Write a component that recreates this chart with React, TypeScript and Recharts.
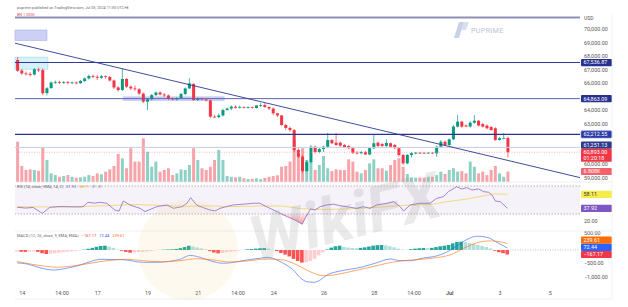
import React from 'react';
import {
  ComposedChart, Bar, Line, Area, XAxis, YAxis, ReferenceLine, ReferenceArea, Cell,
} from 'recharts';

// BTCUSD 4h candles, Jun 13 20:00 -> Jul 03 08:00 (UTC+8)
const opens = [
  67730, 66950, 66730, 66690, 66650, 67020, 66980, 65280, 65650, 66060,
  66100, 66040, 66080, 66020, 66060, 66010, 66170, 66360, 66540, 66480,
  66410, 66530, 66470, 66210, 65690, 65500, 66320, 65750, 65620, 65560,
  65240, 64640, 64820, 65130, 65320, 65170, 65100, 64870, 64800, 64910,
  65210, 65620, 65950, 64760, 64870, 64800, 64730, 63530, 63500, 63620,
  64020, 64130, 64270, 64190, 64250, 64190, 64230, 64170, 64360, 64390,
  64250, 64130, 63780, 63620, 62910, 62690, 62540, 61060, 60560, 59500,
  60170, 61300, 60910, 61130, 61300, 61800, 61600, 61600, 61430, 61360,
  61190, 60860, 60820, 60900, 60730, 61190, 61600, 61500, 61360, 61560,
  61430, 61190, 60690, 60070, 60690, 60820, 60860, 60850, 60840, 60860,
  60810, 61300, 61670, 61430, 61850, 62790, 63160, 62880, 62800, 63080,
  63230, 62980, 62870, 62760, 62670, 61800, 61930, 61950,
];
const highs = [
  67950, 67060, 66870, 66840, 67130, 67170, 67100, 65730, 66130, 66210,
  66190, 66170, 66170, 66130, 66130, 66240, 66430, 66650, 66650, 66620,
  66620, 66580, 66540, 66280, 65800, 67110, 66390, 65840, 65840, 65650,
  65320, 64910, 65210, 65390, 65390, 65280, 65170, 64950, 64980, 65280,
  65690, 66370, 66020, 64950, 64950, 64910, 64800, 63650, 63780, 64130,
  64210, 64360, 64360, 64360, 64270, 64270, 64270, 64390, 64540, 64540,
  64270, 64210, 63790, 63650, 62990, 62800, 62610, 61190, 60690, 60320,
  61430, 61380, 61210, 61380, 62320, 61850, 62320, 61680, 61500, 61430,
  61280, 60990, 60990, 60990, 61280, 62170, 61670, 61580, 61850, 61600,
  61500, 61280, 60760, 60760, 60900, 60910, 60910, 60900, 60900, 60910,
  61380, 61800, 61760, 61910, 62910, 63650, 63230, 62960, 63210, 63650,
  63280, 63060, 62950, 62840, 62740, 62020, 62320, 62060,
];
const lows = [
  66840, 66620, 66580, 66500, 66580, 66840, 65130, 65100, 65580, 65950,
  65950, 65950, 65910, 65950, 65910, 65950, 66100, 66280, 66390, 66240,
  66320, 66320, 66130, 65580, 65390, 65430, 65650, 65500, 65430, 65130,
  64540, 64020, 64730, 65060, 65100, 64980, 64760, 64730, 64730, 64840,
  65130, 65580, 64690, 64690, 64730, 64640, 63430, 63430, 63430, 63530,
  63990, 64020, 64130, 64130, 64130, 64130, 64130, 64130, 64250, 64170,
  64020, 63650, 63500, 62840, 62540, 62390, 60910, 60470, 59360, 59430,
  60070, 60800, 60820, 60910, 61190, 61500, 61360, 61300, 61210, 61130,
  60760, 60730, 60740, 60690, 60690, 61130, 61280, 61280, 61280, 61210,
  61130, 60560, 59950, 60000, 60520, 60740, 60800, 60800, 60790, 60790,
  60560, 61240, 61360, 61360, 61800, 62730, 62690, 62760, 62730, 62990,
  62800, 62730, 62580, 62470, 61730, 61760, 61840, 60520,
];
const closes = [
  66930, 66730, 66690, 66620, 67040, 66950, 65260, 65630, 66060, 66100,
  66040, 66080, 66020, 66060, 66010, 66170, 66360, 66540, 66480, 66410,
  66530, 66470, 66210, 65690, 65500, 66320, 65750, 65620, 65560, 65240,
  64640, 64820, 65130, 65320, 65170, 65100, 64870, 64800, 64910, 65210,
  65620, 65990, 64760, 64870, 64800, 64730, 63530, 63500, 63620, 64020,
  64130, 64270, 64190, 64250, 64190, 64230, 64170, 64360, 64390, 64250,
  64130, 63780, 63620, 62910, 62690, 62540, 61060, 60560, 59500, 60170,
  61300, 60910, 61130, 61300, 61800, 61560, 61430, 61380, 61280, 61190,
  60860, 60820, 60900, 60730, 61190, 61560, 61360, 61360, 61580, 61300,
  61190, 60690, 60070, 60690, 60820, 60860, 60850, 60840, 60860, 60810,
  61300, 61670, 61430, 61850, 62790, 63160, 62790, 62800, 63080, 63230,
  62870, 62790, 62670, 62540, 61800, 61930, 61950, 60893,
];
// volume in thousands
const volumes = [
  26.1, 10.4, 7.8, 8.2, 7.8, 7.3, 22.5, 14.3, 5.6, 4.5,
  3.4, 3.9, 4.5, 3.4, 2.8, 3.0, 3.4, 4.5, 3.9, 5.6,
  5.0, 6.7, 8.2, 10.4, 18.2, 15.4, 8.9, 21.9, 13.2, 13.2,
  28.3, 19.6, 9.9, 13.2, 6.7, 7.8, 8.9, 4.5, 5.6, 8.2,
  7.8, 11.0, 21.9, 14.3, 8.9, 7.8, 9.9, 14.3, 20.8, 14.3,
  3.9, 3.4, 3.0, 3.4, 2.4, 1.9, 2.1, 2.4, 1.9, 2.6,
  3.4, 3.9, 4.3, 9.9, 10.4, 13.2, 27.2, 20.8, 21.9, 14.3,
  13.2, 7.8, 11.0, 16.9, 8.9, 7.1, 8.2, 7.8, 7.8, 14.7,
  13.2, 6.7, 5.6, 7.8, 12.1, 14.7, 8.9, 8.9, 7.3, 11.0,
  14.3, 15.4, 9.9, 5.2, 3.0, 2.8, 3.0, 2.8, 3.4, 3.4,
  4.5, 6.7, 5.2, 7.8, 8.9, 6.7, 7.1, 5.6, 13.2, 9.9,
  5.6, 6.7, 4.5, 7.8, 10.4, 5.6, 3.4, 6.808,
];
const macdHist = [
  -55, -65, -70, -60, -50, -70, -120, -150, -140, -120,
  -100, -80, -65, -50, -30, -10, 15, 45, 80, 120,
  150, 160, 130, 80, 20, -30, -70, -100, -90, -75,
  -70, -55, -35, -15, 5, 15, 20, 25, 40, 70,
  110, 160, 130, 95, 60, 25, -40, -95, -125, -110,
  -85, -65, -45, -20, 5, 25, 35, 50, 65, 70,
  50, 10, -40, -110, -170, -240, -330, -410, -470, -460,
  -410, -330, -200, -90, 20, 90, 140, 160, 110, 90,
  75, 70, 80, 100, 130, 160, 180, 185, 170, 140,
  100, 50, 20, 10, 30, 50, 65, 75, 70, 80,
  110, 140, 160, 190, 250, 300, 310, 290, 260, 230,
  190, 150, 110, 60, -30, -80, -120, -167.17,
];
// [candle index, value]
const macdLine = [
  [0, -480], [2.3, -520], [5.4, -660], [7, -720], [8.6, -746], [11.8, -683], [15, -560],
  [17.4, -436], [19.8, -347], [25.3, -360], [30.1, -460], [33.3, -459], [38.9, -347],
  [41.2, -200], [43.6, -272], [46, -399], [49.2, -496], [54.8, -373], [57.9, -310],
  [59.5, -272], [63.5, -496], [65.9, -746], [67.5, -1026], [69.1, -1182], [70.7, -1205],
  [72.3, -1119], [73.9, -933], [76.3, -809], [79.4, -720], [82.6, -623], [85.8, -474],
  [89, -336], [91.4, -399], [93.8, -399], [96.9, -300], [100.1, -220], [102.5, -80],
  [104.9, 150], [107.3, 390], [109.7, 515], [111.3, 496], [112.9, 430], [114, 330],
  [115, 240], [116, 160], [117, 72.44],
];
const signalLine = [
  [0, -430], [7, -610], [9.4, -645], [13, -600], [17.4, -496], [21.4, -399], [26.1, -347],
  [30.1, -399], [34.1, -436], [38.9, -399], [42.8, -325], [46.8, -373], [50.8, -448],
  [54.8, -410], [59.5, -336], [63.5, -373], [65.9, -496], [67.5, -615], [69.9, -809],
  [73.1, -960], [75.4, -933], [79.4, -809], [84.2, -645], [88.2, -496], [91.4, -410],
  [95.3, -360], [99.3, -300], [103.3, -180], [106.5, 60], [109.7, 270], [113, 340],
  [115, 312], [116, 281], [117, 239.61],
];
const rsiLine = [
  [0, 39.6], [2, 38.5], [3.8, 39.3], [6, 31], [7.8, 39.6], [10, 40.5], [11.8, 40.4], [14, 40],
  [15.7, 40.4], [16.9, 46.7], [18.5, 45.5], [19.8, 46.7], [21.4, 45.3], [23.3, 35.7], [24.3, 34],
  [25.3, 48.6], [26.9, 42.9], [29.3, 38.1], [30.5, 33.5], [31.5, 36], [33.3, 40.4], [35.7, 42.9],
  [37.3, 38.1], [39.3, 40.4], [40.5, 45.3], [41.4, 53.3], [42.8, 42.9], [44.4, 39], [46, 35.7],
  [47.2, 34.3], [48.4, 38.1], [51.5, 42.9], [54, 44], [56.3, 45.3], [57.9, 45.3], [59.5, 40.4],
  [62, 33.3], [64.5, 26], [66, 22], [67, 19], [68, 15.3], [69, 27], [70, 37], [71.1, 35.7],
  [72.3, 40.4], [73.9, 42.9], [75.5, 44], [77, 41.9], [78.6, 40.4], [81, 38.1], [82.6, 40.4],
  [84.2, 38.1], [85.8, 42.9], [88.2, 45.3], [89.8, 47.6], [91.4, 40.4], [92.2, 34.3], [93.8, 42.9],
  [96.1, 45.3], [98.5, 45.3], [100.1, 52.4], [101.7, 54.7], [102.9, 61.9], [104.9, 69],
  [106.1, 65.7], [107.3, 67.6], [108.5, 64.3], [110.1, 65.7], [111.3, 61.9], [112.5, 61],
  [113.3, 57.1], [114.1, 48.6], [115.3, 47.6], [117, 37.92],
];
const rsiMa = [
  [0, 40.5], [8, 40], [16, 40.8], [24, 42.5], [28, 43.5], [33, 42.5], [40, 41], [46, 41.5],
  [52, 40.5], [58, 41.5], [63, 41.5], [68, 37.5], [73, 36.5], [78, 37], [83, 38.5], [88, 40.5],
  [93, 42.5], [99.2, 43.9], [102.6, 47.6], [107.4, 51.4], [111, 55.7], [114, 58.8], [117, 58.11],
];

const dateTicks = [1.2, 10.7, 19.2, 31.2, 43.2, 52.7, 61.2, 73.2, 85.2, 94.7, 103.2, 115.2, 127.2];
const dateLabels = ['14', '14:00', '17', '19', '21', '14:00', '24', '26', '28', '14:00', 'Jul', '3', '5'];
const priceTicks = [59000, 60000, 63000, 64000, 66000, 67000, 68000, 69000, 70000];
const rsiTicks = [20];
const macdTicks = [500, -500, -1000];

// drawings on the price pane
const topLevel = 70874;
const levels = [67536.87, 64863.09, 62212.55];
const rayLevel = 61251.13;
const lastPrice = 60893;
const trendFrom = 68970;
const trendTo = 59015;

const X_DOMAIN: [number, number] = [-0.525, 134.3];
const PRICE_DOMAIN: [number, number] = [58689, 71133];
const VOL_DOMAIN: [number, number] = [0, 108.9];
const RSI_DOMAIN: [number, number] = [5.7, 75.7];
const MACD_DOMAIN: [number, number] = [-1380, 709];

const FONT = 'Roboto, "Liberation Sans", Arial, sans-serif';
const UP = '#089981';
const DOWN = '#f23645';
const AXIS_TXT = '#555';
const TAG_H = 7.2;

const candleData = closes.map((c, i) => ({
  i,
  o: opens[i],
  h: highs[i],
  l: lows[i],
  c,
  range: [lows[i], highs[i]],
  vol: volumes[i],
  hist: macdHist[i],
}));
const toRows = (pts: number[][]) => pts.map(([i, v]) => ({ i, v }));
const rsiRows = rsiLine.map(([i, v]) => ({ i, v, os: [Math.min(v, 30), 30] }));

const fmt = (v: number) =>
  Math.abs(v).toLocaleString('en-US', { minimumFractionDigits: 2, maximumFractionDigits: 2 });
const fmtSigned = (v: number) => (v < 0 ? '\u2212' : '') + fmt(v);

const histColor = (v: number, prev: number) =>
  v >= 0 ? (v >= prev ? '#26a69a' : '#b2dfdb') : v < prev ? '#ff5252' : '#ffcdd2';

// push overlapping axis tags upward, like the price scale does
function dodge(items: { v: number; h: number }[], dom: [number, number], plotH: number) {
  const py = (v: number) => ((dom[1] - v) / (dom[1] - dom[0])) * plotH;
  const order = items.map((t, k) => ({ k, y: py(t.v), h: t.h })).sort((a, b) => b.y - a.y);
  const out = items.map(() => 0);
  let limit = Infinity;
  for (const s of order) {
    const top = s.y - TAG_H / 2;
    const shift = Math.min(0, limit - (top + s.h));
    out[s.k] = shift;
    limit = top + shift;
  }
  return out;
}

const Candle = (p: any) => {
  const { x, y, width, height, payload } = p;
  const { o, c, h, l } = payload;
  const color = c >= o ? UP : DOWN;
  const k = height / Math.max(h - l, 1e-9);
  const top = y + (h - Math.max(o, c)) * k;
  const bh = Math.max(0.8, Math.abs(o - c) * k);
  const cx = x + width / 2;
  return (
    <g>
      <line x1={cx} x2={cx} y1={y} y2={y + height} stroke={color} strokeWidth={0.7} />
      <rect x={x} y={top} width={width} height={bh} fill={color} />
    </g>
  );
};

const Tag = (props: any) => {
  const { viewBox, text, sub, bg, fg = '#fff', dy = 0, border } = props;
  if (!viewBox) return null;
  const x = viewBox.x + viewBox.width + 1;
  const y = viewBox.y + dy;
  const h = sub ? 13 : TAG_H;
  return (
    <g>
      <rect x={x} y={y - TAG_H / 2} width={31} height={h} rx={1} fill={bg} stroke={border || 'none'} strokeWidth={0.6} />
      <text x={x + 2.5} y={y + 1.9} fontSize={5.4} fill={fg}>{text}</text>
      {sub && <text x={x + 2.5} y={y + 7.6} fontSize={5.4} fill={fg}>{sub}</text>}
    </g>
  );
};

const DateTick = ({ x, y, payload }: any) => {
  const k = dateTicks.indexOf(payload.value);
  const label = dateLabels[k] ?? '';
  return (
    <text x={x} y={y} dy={5.5} textAnchor="middle" fontSize={5.4} fill={AXIS_TXT}
      fontWeight={label === 'Jul' ? 700 : 400}>{label}</text>
  );
};

// the top MACD label sits partly above the orange tag
const MacdTick = ({ x, y, payload }: any) => (
  <text x={x} y={y} dy={payload.value === macdTicks[0] ? -1.6 : 1.9} fontSize={5.4} fill={AXIS_TXT}>
    {fmtSigned(payload.value)}
  </text>
);

const MAIN_TOP = 14;
const MAIN_H = 168;
const RSI_TOP = 182;
const RSI_H = 49;
const MACD_TOP = 231;
const MACD_H = 68;
const AXIS_W = 48;
const LEFT = 15;

export default function App() {
  const last = closes.length - 1;
  const mainTagDefs = [
    { v: levels[0], text: '67,536.87', bg: '#26318f', h: TAG_H },
    { v: levels[1], text: '64,863.09', bg: '#26318f', h: TAG_H },
    { v: levels[2], text: '62,212.55', bg: '#2b3ba6', h: TAG_H, border: '#8a96e0' },
    { v: rayLevel, text: '61,251.13', bg: '#2e3a8c', h: TAG_H },
    { v: lastPrice, text: '60,893.00', sub: '01:20:18', bg: '#f23645', h: 13 },
  ];
  const mainShift = dodge(mainTagDefs, PRICE_DOMAIN, MAIN_H);
  const macdVals = [signalLine[signalLine.length - 1][1], macdLine[macdLine.length - 1][1], macdHist[last]];
  const macdShift = dodge(macdVals.map((v) => ({ v, h: TAG_H })), MACD_DOMAIN, MACD_H - 12);
  const macdTagBg = ['#ff6d00', '#2962ff', '#f23645'];
  const rsiVals = [rsiMa[rsiMa.length - 1][1], rsiLine[rsiLine.length - 1][1]];
  const rsiShift = dodge(rsiVals.map((v) => ({ v, h: TAG_H })), RSI_DOMAIN, RSI_H);

  return (
    <div style={{ position: 'relative', width: 628, height: 307, background: '#fff', fontFamily: FONT, overflow: 'hidden' }}>
      <style>{'body{margin:0}'}</style>

      {/* volume, behind the candles */}
      <div style={{ position: 'absolute', left: 0, top: MAIN_TOP }}>
        <ComposedChart width={628} height={MAIN_H} data={candleData}
          margin={{ top: 0, right: AXIS_W, bottom: 0, left: LEFT }}>
          <XAxis dataKey="i" type="number" domain={X_DOMAIN} allowDataOverflow hide />
          <YAxis domain={VOL_DOMAIN} allowDataOverflow hide />
          <Bar dataKey="vol" barSize={3} isAnimationActive={false}>
            {candleData.map((d) => (
              <Cell key={d.i} fill={d.c >= d.o ? '#8fd0c5' : '#f7a3aa'} />
            ))}
          </Bar>
          <ReferenceLine y={volumes[last]} stroke="none"
            label={(p: any) => <Tag {...p} text="6.808K" bg="#f4606c" />} />
        </ComposedChart>
      </div>

      {/* price pane */}
      <div style={{ position: 'absolute', left: 0, top: MAIN_TOP }}>
        <ComposedChart width={628} height={MAIN_H} data={candleData}
          margin={{ top: 0, right: 0, bottom: 0, left: LEFT }}>
          <XAxis dataKey="i" type="number" domain={X_DOMAIN} allowDataOverflow hide />
          <YAxis orientation="right" width={AXIS_W} domain={PRICE_DOMAIN} allowDataOverflow
            ticks={priceTicks} tickFormatter={fmt} tickSize={0} tickMargin={4} interval={0}
            axisLine={false} tickLine={false} tick={{ fontSize: 5.4, fill: AXIS_TXT }} />
          <ReferenceArea x1={X_DOMAIN[0]} x2={7.1} y1={69170} y2={69950}
            fill="#c6cbf4" fillOpacity={0.9} stroke="#a7afe9" strokeWidth={0.6} />
          <ReferenceArea x1={X_DOMAIN[0]} x2={7.3} y1={67040} y2={67930}
            fill="#d3effb" fillOpacity={0.9} stroke="#95d3ef" strokeWidth={0.6} />
          <ReferenceArea x1={25.3} x2={49.4} y1={64720} y2={65000}
            fill="#c9cdf2" fillOpacity={0.9} stroke="#b0b6ea" strokeWidth={0.5} />
          <ReferenceLine y={topLevel} stroke="#8d90b8" strokeWidth={2} />
          <ReferenceLine y={levels[0]} stroke="#2f3b9c" strokeWidth={1.1} />
          <ReferenceLine y={levels[1]} stroke="#5c63b3" strokeWidth={1} />
          <ReferenceLine y={levels[2]} stroke="#26338f" strokeWidth={1.3} />
          <ReferenceLine y={rayLevel} stroke="#c9cce8" strokeWidth={1} />
          <ReferenceLine y={lastPrice} stroke="#f5949b" strokeWidth={0.7} strokeDasharray="1 1.5" />
          <ReferenceLine segment={[{ x: X_DOMAIN[0], y: trendFrom }, { x: X_DOMAIN[1], y: trendTo }]}
            stroke="#2c3a8c" strokeWidth={0.9} />
          <Bar dataKey="range" barSize={3} shape={Candle} isAnimationActive={false} />
          {mainTagDefs.map((t, k) => (
            <ReferenceLine key={t.text} y={t.v} stroke="none"
              label={(p: any) => <Tag {...p} text={t.text} sub={t.sub} bg={t.bg} border={t.border} dy={mainShift[k]} />} />
          ))}
        </ComposedChart>
      </div>

      {/* RSI pane */}
      <div style={{ position: 'absolute', left: 0, top: RSI_TOP }}>
        <ComposedChart width={628} height={RSI_H} data={rsiRows}
          margin={{ top: 0, right: 0, bottom: 0, left: LEFT }}>
          <defs>
            <linearGradient id="osFill" x1="0" y1="0" x2="0" y2="1">
              <stop offset="0%" stopColor="#f7a6ad" stopOpacity={0.5} />
              <stop offset="100%" stopColor="#f23645" stopOpacity={0.9} />
            </linearGradient>
          </defs>
          <XAxis dataKey="i" type="number" domain={X_DOMAIN} allowDataOverflow hide />
          <YAxis orientation="right" width={AXIS_W} domain={RSI_DOMAIN} allowDataOverflow
            ticks={rsiTicks} tickFormatter={fmt} tickSize={0} tickMargin={4} interval={0}
            axisLine={false} tickLine={false} tick={{ fontSize: 5.4, fill: AXIS_TXT }} />
          <ReferenceArea y1={30} y2={70} fill="#7e57c2" fillOpacity={0.08} stroke="none" />
          <ReferenceLine y={70} stroke="#9598a1" strokeWidth={0.7} strokeDasharray="1.5 1.5" />
          <ReferenceLine y={30} stroke="#9598a1" strokeWidth={0.7} strokeDasharray="1.5 1.5" />
          <Area dataKey="os" stroke="none" fill="url(#osFill)" isAnimationActive={false} />
          <Line data={toRows(rsiMa)} dataKey="v" stroke="#f0cf4a" strokeWidth={0.7} dot={false} isAnimationActive={false} />
          <Line dataKey="v" stroke="#7e57c2" strokeWidth={0.7} dot={false} isAnimationActive={false} />
          <ReferenceLine y={rsiVals[0]} stroke="none"
            label={(p: any) => <Tag {...p} text={fmt(rsiVals[0])} bg="#f7ea4b" fg="#333" dy={rsiShift[0]} />} />
          <ReferenceLine y={rsiVals[1]} stroke="none"
            label={(p: any) => <Tag {...p} text={fmt(rsiVals[1])} bg="#7e57c2" dy={rsiShift[1]} />} />
        </ComposedChart>
      </div>

      {/* MACD pane + time axis; the lines get their own x axis so the bars keep their width */}
      <div style={{ position: 'absolute', left: 0, top: MACD_TOP }}>
        <ComposedChart width={628} height={MACD_H} data={candleData}
          margin={{ top: 0, right: 0, bottom: 0, left: LEFT }}>
          <XAxis dataKey="i" type="number" domain={X_DOMAIN} allowDataOverflow height={12}
            ticks={dateTicks} interval={0} tick={<DateTick />} tickSize={0} tickMargin={2}
            axisLine={false} tickLine={false} />
          <XAxis xAxisId="ln" dataKey="i" type="number" domain={X_DOMAIN} allowDataOverflow hide />
          <YAxis orientation="right" width={AXIS_W} domain={MACD_DOMAIN} allowDataOverflow
            ticks={macdTicks} interval={0} tick={<MacdTick />} tickSize={0} tickMargin={4}
            axisLine={false} tickLine={false} />
          <ReferenceLine segment={[{ x: last, y: 0 }, { x: X_DOMAIN[1], y: 0 }]}
            stroke="#9598a1" strokeWidth={0.6} strokeDasharray="1 1.5" />
          <Bar dataKey="hist" barSize={3.6} isAnimationActive={false}>
            {candleData.map((d, k) => (
              <Cell key={d.i} fill={histColor(d.hist, k > 0 ? macdHist[k - 1] : d.hist)} />
            ))}
          </Bar>
          <Line xAxisId="ln" data={toRows(macdLine)} dataKey="v" type="monotone" stroke="#2962ff" strokeWidth={0.6} dot={false} isAnimationActive={false} />
          <Line xAxisId="ln" data={toRows(signalLine)} dataKey="v" type="monotone" stroke="#ff6d00" strokeWidth={0.6} dot={false} isAnimationActive={false} />
          {macdVals.map((v, k) => (
            <ReferenceLine key={k} y={v} stroke="none"
              label={(p: any) => <Tag {...p} text={fmtSigned(v)} bg={macdTagBg[k]} dy={macdShift[k]} />} />
          ))}
        </ComposedChart>
      </div>

      {/* texts, frame and watermarks */}
      <svg width={628} height={307} style={{ position: 'absolute', left: 0, top: 0, pointerEvents: 'none' }}>
        <text x={17} y={9} fontSize={3.8} fill="#666">
          puprime published on TradingView.com, Jul 03, 2024 11:30 UTC+8
        </text>
        <text x={17} y={16} fontSize={3.8} fill="#e0505a">BN 1.0000</text>
        <text x={584} y={20} fontSize={5} fill={AXIS_TXT}>USD</text>
        <line x1={LEFT} x2={612} y1={182} y2={182} stroke="#e6e8ef" strokeWidth={0.7} />
        <line x1={LEFT} x2={612} y1={231} y2={231} stroke="#e6e8ef" strokeWidth={0.7} />
        <line x1={LEFT} x2={612} y1={299} y2={299} stroke="#e6e8ef" strokeWidth={0.7} />
        <line x1={612} x2={612} y1={14} y2={299} stroke="#eceef3" strokeWidth={0.7} />
        <text x={17} y={187.5} fontSize={4} fill="#666">
          RSI (14, close, SMA, 14, 2)
          <tspan fill="#7e57c2" dx={3}>37.92</tspan>
          <tspan fill="#d6b52a" dx={3}>58.11</tspan>
          <tspan dx={3}>∅</tspan>
          <tspan dx={3}>∅</tspan>
        </text>
        <text x={17} y={236.5} fontSize={4} fill="#666">
          MACD (12, 26, close, 9, EMA, EMA)
          <tspan fill="#f23645" dx={3}>−167.17</tspan>
          <tspan fill="#2962ff" dx={3}>72.44</tspan>
          <tspan fill="#ff6d00" dx={3}>239.61</tspan>
        </text>
        <g opacity={0.75}>
          <polygon points="454,38 459,22 464,22 459,38" fill="#b5c4e4" />
          <polygon points="461,30 464,22 469,22 466,30" fill="#cbd6ee" />
          <text x={471} y={33} fontSize={7.2} fill="#a3afc9" letterSpacing={0.3}>PUPRIME</text>
        </g>
        <circle cx={188} cy={250} r={50} fill="#f2c14e" opacity={0.09} />
        <text x={245} y={238} fontSize={64} fontWeight={700} fontStyle="italic" fill="#8a8a8a"
          opacity={0.17} transform="rotate(-14 350 205)">WikiFX</text>
      </svg>
    </div>
  );
}
